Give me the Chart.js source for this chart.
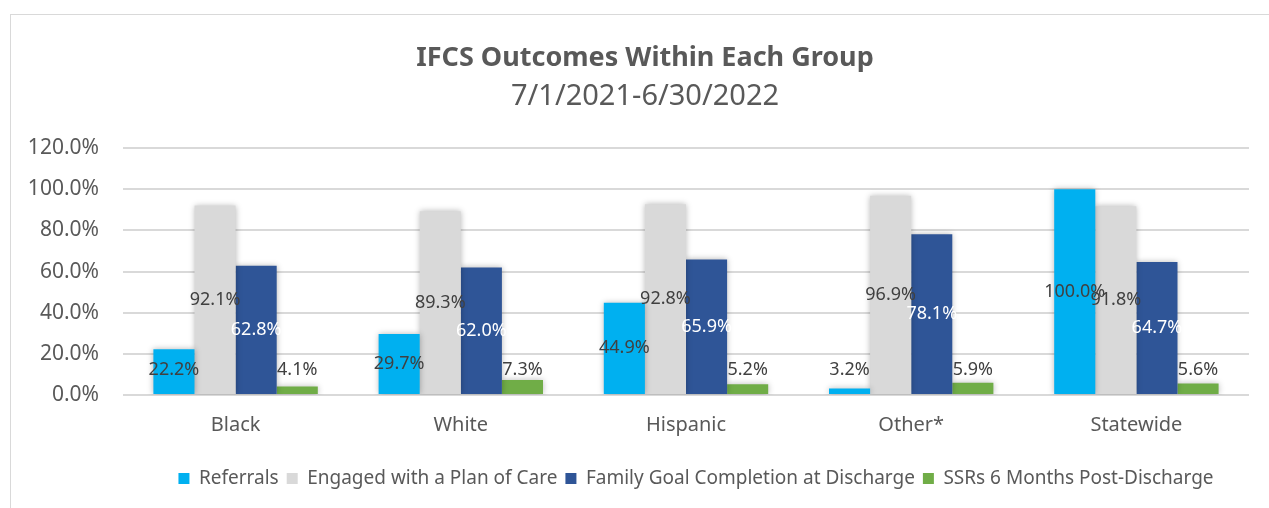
<!DOCTYPE html>
<html>
<head>
<meta charset="utf-8">
<script src="https://cdn.jsdelivr.net/npm/chart.js@4.4.1/dist/chart.umd.min.js"></script>
<style>
  html, body { margin: 0; padding: 0; background: #fff; overflow: hidden; width: 1269px; height: 508px; }
  #frame { position: absolute; left: 10px; top: 14px; width: 1268px; height: 500px; border: 1px solid #d9d9d9; }
  #wrap { position: absolute; left: 0; top: 0; width: 1268px; height: 495px; }
</style>
</head>
<body>
<div id="frame"><div id="wrap"><canvas id="chart"></canvas></div></div>
<script>
// IFCS 결과 — 그룹별 4개 지표 (%)
const groups = ['Black', 'White', 'Hispanic', 'Other*', 'Statewide'];
const referrals = [22.2, 29.7, 44.9, 3.2, 100.0];
const engaged = [92.1, 89.3, 92.8, 96.9, 91.8];
const goalCompletion = [62.8, 62.0, 65.9, 78.1, 64.7];
const ssrs = [4.1, 7.3, 5.2, 5.9, 5.6];
const yTicks = [0, 20, 40, 60, 80, 100, 120];

const FONT = '"Noto Sans", "Open Sans", sans-serif';
const TXT = '#595959';

// Excel식 막대 그림자 + 가운데 데이터 라벨 (작은 막대는 라벨이 바닥 위로 고정)
const barGlow = {
  id: 'barGlow',
  beforeDatasetDraw(chart) {
    const { ctx } = chart;
    ctx.save();
    ctx.shadowColor = 'rgba(0,0,0,0.28)';
    ctx.shadowBlur = 6;
  },
  afterDatasetDraw(chart) { chart.ctx.restore(); },
};

const centerLabels = {
  id: 'centerLabels',
  afterDatasetsDraw(chart) {
    const { ctx } = chart;
    const zeroY = chart.scales.y.getPixelForValue(0);
    ctx.save();
    ctx.font = `18px ${FONT}`;
    ctx.textAlign = 'center';
    ctx.textBaseline = 'middle';
    chart.data.datasets.forEach((ds, i) => {
      chart.getDatasetMeta(i).data.forEach((bar, j) => {
        const y = Math.min((bar.y + bar.base) / 2, zeroY - 25);
        ctx.fillStyle = ds.labelColor;
        ctx.fillText(ds.data[j].toFixed(1) + '%', bar.x, y);
      });
    });
    ctx.restore();
  },
};

// 범례는 원본처럼 플롯 영역 쪽으로 살짝 오른쪽
const legendShift = {
  id: 'legendShift',
  afterLayout(chart) {
    if (!chart.legend) return;
    chart.legend.left += 51;
    chart.legend.right += 51;
  },
};

new Chart(document.getElementById('chart'), {
  type: 'bar',
  data: {
    labels: groups,
    datasets: [
      { label: 'Referrals', data: referrals, backgroundColor: '#00b0f0', labelColor: '#404040' },
      { label: 'Engaged with a Plan of Care', data: engaged, backgroundColor: '#d9d9d9', labelColor: '#404040' },
      { label: 'Family Goal Completion at Discharge', data: goalCompletion, backgroundColor: '#2f5597', labelColor: '#ffffff' },
      { label: 'SSRs 6 Months Post-Discharge', data: ssrs, backgroundColor: '#70ad47', labelColor: '#404040' },
    ],
  },
  options: {
    responsive: true, maintainAspectRatio: false, animation: false,
    datasets: { bar: { categoryPercentage: 0.73, barPercentage: 1 } },
    layout: { padding: { left: 0, right: 0, top: 0, bottom: 12 } },
    plugins: {
      title: {
        display: true, text: 'IFCS Outcomes Within Each Group', color: TXT,
        font: { family: FONT, size: 27, weight: 'bold' }, padding: { top: 27, bottom: 3 },
      },
      subtitle: {
        display: true, text: '7/1/2021-6/30/2022', color: TXT,
        font: { family: FONT, size: 29 }, padding: { top: 2, bottom: 34 },
      },
      legend: {
        position: 'bottom',
        labels: { boxWidth: 11, boxHeight: 11, padding: 8, color: TXT, font: { family: FONT, size: 19 } },
      },
      tooltip: { enabled: false },
    },
    scales: {
      x: {
        grid: { display: false },
        border: { display: false },
        ticks: { color: TXT, font: { family: FONT, size: 20 }, padding: 10 },
        afterFit(scale) { scale.height = 66; },
      },
      y: {
        min: 0, max: 120,
        afterBuildTicks(scale) { scale.ticks = yTicks.map((v) => ({ value: v })); },
        grid: { color: '#d9d9d9', lineWidth: 2, drawTicks: false },
        border: { display: false },
        ticks: {
          color: TXT, font: { family: FONT, size: 21 }, padding: 24,
          callback: (v) => v.toFixed(1) + '%',
        },
        afterFit(scale) { scale.width = 112; },
      },
      // 오른쪽 여백용 빈 축 — 제목이 캔버스 전체 가운데에 오도록
      y2: {
        position: 'right', min: 0, max: 1,
        grid: { display: false }, border: { display: false },
        ticks: { display: false },
        afterFit(scale) { scale.width = 30; },
      },
    },
  },
  plugins: [barGlow, centerLabels, legendShift],
});
</script>
</body>
</html>
